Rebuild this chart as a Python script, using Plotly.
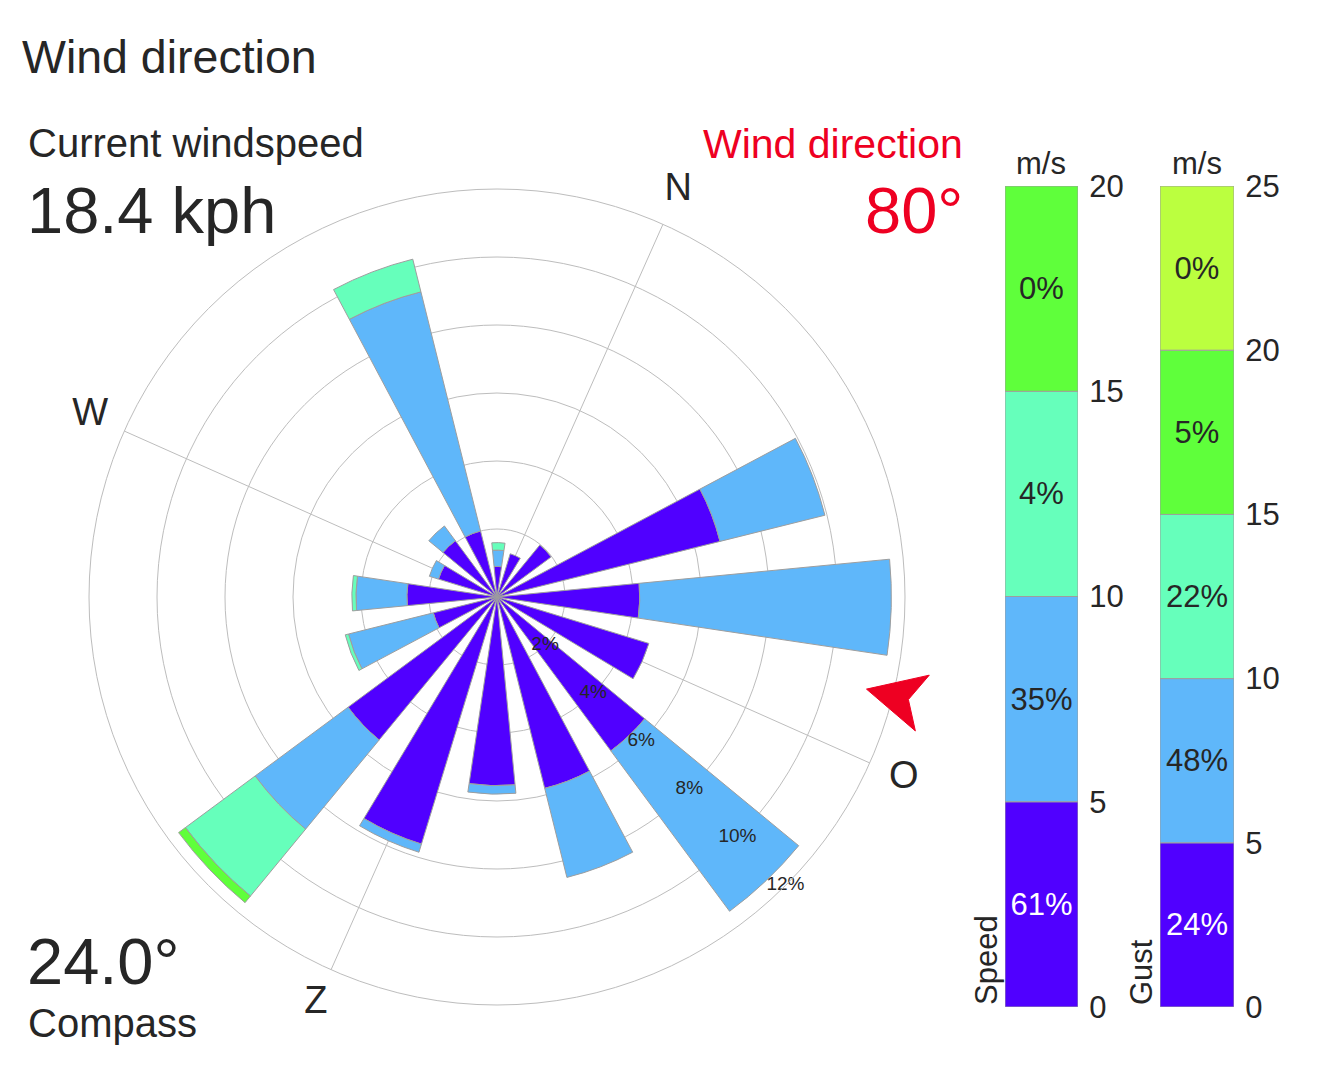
import plotly.graph_objects as go

W, H = 1318, 1084

# ---------------- data ----------------
directions = ["N", "NNE", "NE", "ENE", "E", "ESE", "SE", "SSE",
              "S", "SSW", "SW", "WSW", "W", "WNW", "NW", "NNW"]
dir_degrees = [0, 22.5, 45, 67.5, 90, 112.5, 135, 157.5,
               180, 202.5, 225, 247.5, 270, 292.5, 315, 337.5]

speed_bins = ["0-5", "5-10", "10-15", "15-20"]
freq_0_5 = [1.33, 1.98, 6.76, 4.20, 4.67, 5.63, 5.80, 5.55,
            7.60, 5.45, 1.93, 2.65, 1.80, 2.06, 2.00, 0.90]
freq_5_10 = [0, 0, 3.18, 7.40, 0, 5.87, 2.70, 0.25,
             0.25, 3.40, 2.57, 1.50, 0.28, 0.54, 7.25, 0.48]
freq_10_15 = [0, 0, 0, 0, 0, 0, 0, 0,
              0, 2.55, 0.10, 0.12, 0, 0, 0.99, 0.22]
freq_15_20 = [0, 0, 0, 0, 0, 0, 0, 0,
              0, 0.25, 0, 0, 0, 0, 0, 0]

compass_deg = 24.0
wind_direction_deg = 80
windspeed_kph = 18.4

compass_tickvals = [0, 90, 180, 270]
compass_ticktext = ["N", "O", "Z", "W"]
radial_ticks = [2, 4, 6, 8, 10, 12]

speed_edges = [0, 5, 10, 15, 20]
speed_pct = [61, 35, 4, 0]
gust_edges = [0, 5, 10, 15, 20, 25]
gust_pct = [24, 48, 22, 5, 0]

# ---------------- style ----------------
FONT = "Liberation Sans, Arial, sans-serif"
TXT = "#262626"
RED = "#ee0022"
GRID = "#bdbdbd"
EDGE = "#9e9e9e"
bin_colors = ["#5000ff", "#5fb7fa", "#66ffbb", "#5fff3b", "#bbff3f"]
text_colors = ["white", TXT, TXT, TXT, TXT]
PX_PER_PCT = 34       # pixels per percent on the radial scale
R_OVER = 13.5         # range of the overlay polar (letters + arrow)
LABEL_R = 13.1        # radius of the compass letters


def px_x(p):
    return p / W


def px_y(p):
    return 1 - p / H


def polar_domain(cx, cy, rpx):
    return dict(x=[px_x(cx - rpx), px_x(cx + rpx)],
                y=[px_y(cy + rpx), px_y(cy - rpx)])


fig = go.Figure()

# wind rose bars
for freqs, name, col in zip([freq_0_5, freq_5_10, freq_10_15, freq_15_20],
                            speed_bins, bin_colors):
    rr = [v for v in freqs if v > 0]
    tt = [d for v, d in zip(freqs, dir_degrees) if v > 0]
    fig.add_trace(go.Barpolar(
        r=rr, theta=tt, name=name, width=14, subplot="polar",
        marker=dict(color=col, line=dict(color=EDGE, width=1)),
        hoverinfo="skip"))

# radial tick labels (down-right)
lbl_theta = 135 - compass_deg
fig.add_trace(go.Scatterpolar(
    r=radial_ticks, theta=[lbl_theta] * len(radial_ticks), mode="text",
    text=[f"{v}%" for v in radial_ticks], subplot="polar",
    textfont=dict(family=FONT, size=19, color=TXT), hoverinfo="skip"))

# compass letters (overlay polar)
fig.add_trace(go.Scatterpolar(
    r=[LABEL_R] * len(compass_tickvals), theta=compass_tickvals, mode="text",
    text=compass_ticktext, cliponaxis=False, subplot="polar2",
    textfont=dict(family=FONT, size=38, color=TXT), hoverinfo="skip"))

# wind direction arrow (pointing to the centre)
tip_r, back_r, notch_r, half = 11.2, 12.92, 12.47, 3.75
wd = wind_direction_deg
fig.add_trace(go.Scatterpolar(
    r=[tip_r, back_r, notch_r, back_r, tip_r],
    theta=[wd, wd - half, wd, wd + half, wd], subplot="polar2",
    mode="lines", fill="toself", fillcolor=RED,
    line=dict(color=RED, width=1), hoverinfo="skip"))


# legend bars
def legend_bar(edges, pcts, xa, ya):
    n = len(pcts)
    fig.add_trace(go.Bar(
        x=[0] * n, y=[edges[i + 1] - edges[i] for i in range(n)],
        base=edges[:-1], width=1,
        marker=dict(color=bin_colors[:n], line=dict(color=EDGE, width=1)),
        text=[f"{p}%" for p in pcts], textposition="inside",
        insidetextanchor="middle", textangle=0,
        textfont=dict(family=FONT, size=31, color=text_colors[:n]),
        xaxis=xa, yaxis=ya, hoverinfo="skip"))


legend_bar(speed_edges, speed_pct, "x", "y")
legend_bar(gust_edges, gust_pct, "x2", "y2")

ax_common = dict(showgrid=False, zeroline=False, showline=False)
yax_common = dict(showgrid=False, zeroline=False, showline=False, side="right",
                  automargin=False,
                  ticks="outside", ticklen=4, tickcolor="rgba(0,0,0,0)",
                  tickfont=dict(family=FONT, size=31, color=TXT),
                  domain=[px_y(1007), px_y(186)])

cx, cy = 497, 597
r_main = radial_ticks[-1]
angular_common = dict(direction="clockwise", rotation=90 - compass_deg,
                      type="linear", thetaunit="degrees")
fig.update_layout(
    width=W, height=H, margin=dict(l=0, r=0, t=0, b=0, autoexpand=False),
    paper_bgcolor="white", plot_bgcolor="white", showlegend=False,
    font=dict(family=FONT, color=TXT),
    polar=dict(
        domain=polar_domain(cx, cy, PX_PER_PCT * r_main),
        bgcolor="white", barmode="stack", hole=0,
        angularaxis=dict(
            tickmode="array", tickvals=compass_tickvals,
            showticklabels=False, ticks="",
            showgrid=True, gridcolor=GRID, gridwidth=1,
            showline=True, linecolor=GRID, linewidth=1, **angular_common),
        radialaxis=dict(
            range=[0, r_main], tickmode="array", tickvals=radial_ticks,
            showticklabels=False, ticks="", showline=False,
            showgrid=True, gridcolor=GRID, gridwidth=1)),
    polar2=dict(
        domain=polar_domain(cx, cy, PX_PER_PCT * R_OVER),
        bgcolor="rgba(0,0,0,0)", hole=0,
        angularaxis=dict(showticklabels=False, ticks="", showgrid=False,
                         showline=False, **angular_common),
        radialaxis=dict(range=[0, R_OVER], showticklabels=False, ticks="",
                        showline=False, showgrid=False)),
    xaxis=dict(domain=[px_x(1005), px_x(1078)], range=[-0.5, 0.5],
               visible=False, **ax_common),
    yaxis=dict(range=[0, 20], tickvals=speed_edges, anchor="x", **yax_common),
    xaxis2=dict(domain=[px_x(1160), px_x(1234)], range=[-0.5, 0.5],
                visible=False, **ax_common),
    yaxis2=dict(range=[0, 25], tickvals=gust_edges, anchor="x2", **yax_common),
)

annotations = [
    dict(text="Wind direction", x=px_x(20), y=px_y(57.5), xanchor="left",
         font=dict(size=46.5, color=TXT)),
    dict(text="Current windspeed", x=px_x(26), y=px_y(143), xanchor="left",
         font=dict(size=40, color=TXT)),
    dict(text=f"{windspeed_kph} kph", x=px_x(25), y=px_y(211), xanchor="left",
         font=dict(size=65, color=TXT)),
    dict(text="Wind direction", x=px_x(965), y=px_y(144), xanchor="right",
         font=dict(size=41, color=RED)),
    dict(text=f"{wind_direction_deg}°", x=px_x(965), y=px_y(211), xanchor="right",
         font=dict(size=65, color=RED)),
    dict(text=f"{compass_deg:.1f}°", x=px_x(25), y=px_y(961), xanchor="left",
         font=dict(size=65, color=TXT)),
    dict(text="Compass", x=px_x(26), y=px_y(1023), xanchor="left",
         font=dict(size=40, color=TXT)),
    dict(text="m/s", x=px_x(1041), y=px_y(163), xanchor="center",
         font=dict(size=31, color=TXT)),
    dict(text="m/s", x=px_x(1197), y=px_y(163), xanchor="center",
         font=dict(size=31, color=TXT)),
    dict(text="Speed", x=px_x(986), y=px_y(1007), xanchor="center", yanchor="bottom",
         textangle=-90, font=dict(size=31, color=TXT)),
    dict(text="Gust", x=px_x(1141), y=px_y(1007), xanchor="center", yanchor="bottom",
         textangle=-90, font=dict(size=31, color=TXT)),
]
for a in annotations:
    a.setdefault("yanchor", "middle")
    a.update(xref="paper", yref="paper", showarrow=False)
    a["font"]["family"] = FONT
fig.update_layout(annotations=annotations)

fig.write_html("out.html")
